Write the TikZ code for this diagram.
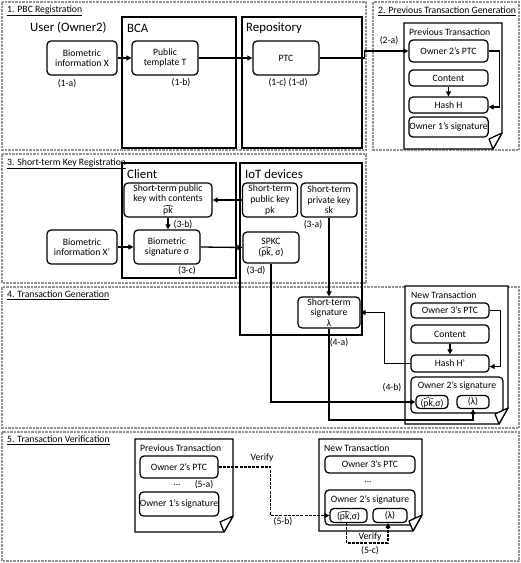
\documentclass[tikz,border=0pt]{standalone}
\usepackage{fontspec}
\setmainfont{Carlito}
\usetikzlibrary{arrows.meta}
\tikzset{
  rbox/.style={draw, line width=1.25pt, rounded corners=4pt, align=center, inner sep=0.5pt, font=\fontsize{9.7}{10.6}\selectfont, fill=white},
  lane/.style={draw, line width=1.3pt},
  sect/.style={draw=gray!85, line width=2.2pt, dash pattern=on 2.5pt off 1pt},
  txt/.style={font=\fontsize{9.7}{10.6}\selectfont, inner sep=0pt},
  big/.style={font=\fontsize{12.8}{14}\selectfont, inner sep=0pt, anchor=west},
  arr/.style={line width=1.3pt, -{Triangle[length=5pt,width=5pt]}},
  darr/.style={line width=1.6pt, dash pattern=on 3pt off 1.2pt, -{Triangle[length=5pt,width=5pt]}},
  docline/.style={draw, line width=1.25pt, fill=white},
}
\newcommand{\mydoc}[4]{%
  \draw[docline] (#1,#2) -- (#3,#2) -- (#3,#4-16) -- (#3-9,#4) -- (#1,#4) -- cycle;}
\newcommand{\myflap}[4]{%
  \draw[docline, line join=round] (#3,#4-16) -- (#3-13,#4-10) -- (#3-9,#4) -- cycle;}
\newcommand{\pkh}{\leavevmode\rlap{\begin{pgfpicture}\pgfsetbaseline{0pt}\pgfsetlinewidth{0.55pt}\pgfsetdash{}{0pt}\pgfpathmoveto{\pgfpoint{0.2pt}{7.2pt}}\pgfpathlineto{\pgfpoint{4.8pt}{9.3pt}}\pgfpathlineto{\pgfpoint{9.4pt}{7.2pt}}\pgfusepath{stroke}\end{pgfpicture}}pk}
\begin{document}
\begin{tikzpicture}[x=1pt,y=-1pt]
\useasboundingbox (0,0) rectangle (521,563);
% sections
\draw[sect] (2,2) rectangle (366,150);
\draw[sect] (373,2) rectangle (519,150);
\draw[sect] (2,154) rectangle (366,283);
\draw[sect] (2,287) rectangle (519,428);
\draw[sect] (2,432) rectangle (519,561);
\node[txt, anchor=west] (t1) at (7,11) {\underline{1. PBC Registration}};
\node[txt, anchor=west] (t2) at (378,11) {\underline{2. Previous Transaction Generation}};
\node[txt, anchor=west] (t3) at (7,164) {\underline{3. Short-term Key Registration}};
\node[txt, anchor=west] (t4) at (7,295) {\underline{4. Transaction Generation}};
\node[txt, anchor=west] (t5) at (7,440) {\underline{5. Transaction Verification}};
% lanes
\draw[lane] (122,17) rectangle (236,148);
\draw[lane] (242,17) rectangle (362,148);
\draw[lane] (122,163) rectangle (236,278);
\draw[lane] (240,163) rectangle (362,335);
\node[big] (lu) at (30,28) {User (Owner2)};
\node[big] (lb) at (127,28) {BCA};
\node[big] (lr) at (246,28) {Repository};
\node[big] (lc) at (127,174) {Client};
\node[big] (li) at (245,174) {IoT devices};
% section 1
\node[rbox, minimum width=70, minimum height=34] (bx) at (82,58) {Biometric\\information X};
\node[rbox, minimum width=66, minimum height=34] (tT) at (165,58) {Public\\template T};
\node[rbox, minimum width=66, minimum height=34] (ptc) at (286,58) {PTC};
\node[txt] (l1a) at (67,84) {(1-a)};
\node[txt] (l1b) at (181,83) {(1-b)};
\node[txt] (l1c) at (288,83) {(1-c) (1-d)};
\draw[arr] (bx) -- (tT);
\draw[arr] (tT) -- (ptc);
% section 2
\mydoc{404}{23}{502}{149}
\node[txt, anchor=west] (pt2) at (409,32) {Previous Transaction};
\node[rbox, minimum width=79, minimum height=22] (o2ptc) at (448.5,51) {Owner 2’s PTC};
\node[rbox, minimum width=79, minimum height=16] (cont) at (448.5,78) {Content};
\node[rbox, minimum width=79, minimum height=16] (hashH) at (448.5,105) {Hash H};
\node[rbox, minimum width=79, minimum height=20] (o1sig) at (448.5,127) {Owner 1’s signature};
\myflap{404}{23}{502}{149}
\node[txt] (l2a) at (389,41) {(2-a)};
\draw[arr] (ptc.east) -- ++(45,0) |- (o2ptc.west);
\draw[arr] (cont) -- (hashH);
\draw[arr] (o2ptc.east) -- ++(11,0) |- ([yshift=-2pt]hashH.east);
% section 3
\node[rbox, minimum width=88, minimum height=34, font=\fontsize{9.7}{10}\selectfont] (pkc) at (168,200) {Short-term public\\key with contents\\\pkh};
\node[rbox, minimum width=66, minimum height=34] (bsig) at (167,247) {Biometric\\signature σ};
\node[rbox, minimum width=70, minimum height=34] (bx2) at (82,247) {Biometric\\information X’};
\node[rbox, minimum width=55, minimum height=34] (pk) at (270,200) {Short-term\\public key\\pk};
\node[rbox, minimum width=56, minimum height=34] (sk) at (329,200) {Short-term\\private key\\sk};
\node[rbox, minimum width=56, minimum height=31] (spkc) at (271,247.5) {SPKC\\(\pkh, σ)};
\node[txt] (l3a) at (313,225) {(3-a)};
\node[txt] (l3b) at (183,225) {(3-b)};
\node[txt] (l3c) at (187,271) {(3-c)};
\node[txt] (l3d) at (256,271) {(3-d)};
\draw[arr] (pk.west) -- (pkc.east);
\draw[arr] (pkc.south) -- (pkc.south |- bsig.north);
\draw[arr] (bx2) -- (bsig);
\draw[arr] (bsig.east) -- (spkc.west);
% section 4
\node[rbox, minimum width=62, minimum height=31] (stsig) at (329,312.5) {Short-term\\signature\\λ};
\node[txt] (l4a) at (339,343) {(4-a)};
\mydoc{405}{286}{508}{424}
\node[txt, anchor=west] (nt4) at (411,295) {New Transaction};
\node[rbox, minimum width=78, minimum height=15] (o3ptc) at (450,310.5) {Owner 3’s PTC};
\node[rbox, minimum width=78, minimum height=18] (cont2) at (450,334) {Content};
\node[rbox, minimum width=78, minimum height=17] (hashH2) at (450,363.5) {Hash H’};
\node[rbox, minimum width=92, minimum height=36] (o2sig) at (457,395) {};
\node[txt] (o2sigt) at (457,385.5) {Owner 2’s signature};
\node[rbox, minimum width=32, minimum height=13] (pks) at (432,402) {(\pkh,σ)};
\node[rbox, minimum width=32, minimum height=13] (lam) at (473,402) {(λ)};
\myflap{405}{286}{508}{424}
\node[txt] (l4b) at (392,388) {(4-b)};
\coordinate (low4) at (0,420);
\draw[arr] (sk.south) -- (stsig.north);
\draw[arr] (o3ptc.east) -- ++(11,0) |- ([yshift=-3pt]hashH2.east);
\draw[arr] (cont2) -- (hashH2);
\draw[arr] (hashH2.west) -- ++(-26,0) |- (stsig.east);
\draw[arr] (spkc.south) |- (pks.west);
\draw[arr] (stsig.south) -- (stsig.south |- low4) -| (lam.south);
% section 5
\mydoc{135}{439}{233}{532}
\node[txt, anchor=west] (pt5) at (140,448) {Previous Transaction};
\node[rbox, minimum width=78, minimum height=22] (p2ptc) at (179,467) {Owner 2’s PTC};
\node[txt] (dots1) at (177,485) {...};
\node[txt] (l5a) at (204,485) {(5-a)};
\node[rbox, minimum width=78, minimum height=24] (p1sig) at (179,504) {Owner 1’s signature};
\myflap{135}{439}{233}{532}
\mydoc{319}{439}{422}{531}
\node[txt, anchor=west] (nt5) at (324,448) {New Transaction};
\node[rbox, minimum width=90, minimum height=17] (n3ptc) at (370,464.5) {Owner 3’s PTC};
\node[txt] (dots2) at (368,482) {...};
\node[rbox, minimum width=90, minimum height=35] (n2sig) at (370,507.5) {};
\node[txt] (n2sigt) at (370,500) {Owner 2’s signature};
\node[rbox, minimum width=37, minimum height=14] (npks) at (348.5,515.5) {(\pkh,σ)};
\node[rbox, minimum width=34, minimum height=14] (nlam) at (390,515.5) {(λ)};
\myflap{319}{439}{422}{531}
\coordinate (low5) at (0,543);
\draw[darr] (p2ptc.east) -- ++(52,0) |- (npks.west);
\node[txt] (v1) at (262,458) {Verify};
\node[txt] (l5b) at (283,522) {(5-b)};
\draw[darr] ([xshift=-2pt]npks.south) -- ([xshift=-2pt]npks.south |- low5) -| ([xshift=-2pt]nlam.south);
\node[txt] (v2) at (370,537) {Verify};
\node[txt] (l5c) at (370,551) {(5-c)};
\end{tikzpicture}
\end{document}
